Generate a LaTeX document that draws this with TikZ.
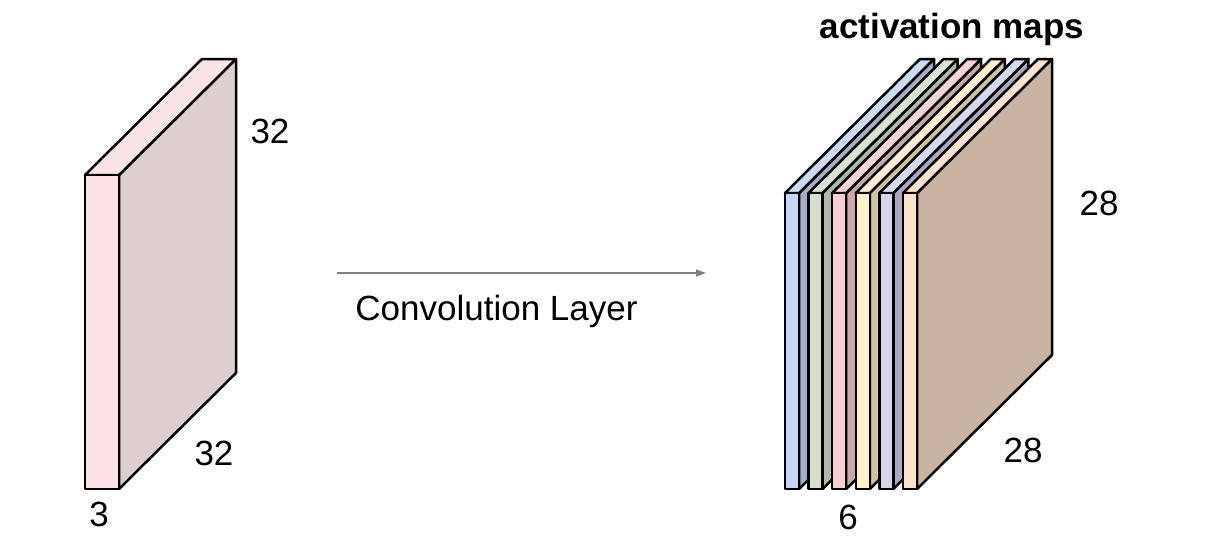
\documentclass[tikz,border=0pt]{standalone}
\usepackage{fontspec}
\setmainfont{Liberation Sans}
\usetikzlibrary{arrows.meta}
\definecolor{lfront}{HTML}{FBE3E6}
\definecolor{ltop}{HTML}{F9E4E6}
\definecolor{lside}{HTML}{DDCFD0}
\definecolor{arrowgray}{HTML}{7F7F7F}
\begin{document}
\begin{tikzpicture}[x=1pt,y=-1pt,line width=2.5pt,line join=round,
  face/.style={draw=black},
  lbl/.style={font=\fontsize{35}{40}\selectfont,inner sep=0pt,text=black},
  conn/.style={draw=arrowgray,line width=1.3pt,-{Triangle[length=10pt,width=7pt]}}]
\useasboundingbox (0,0) rectangle (1223,538);
% input volume
\filldraw[face,fill=lside] (119,175) -- (236,59) -- (236,373) -- (119,489) -- cycle;
\filldraw[face,fill=ltop] (85,175) -- (202,59) -- (236,59) -- (119,175) -- cycle;
\filldraw[face,fill=lfront] (85,175) rectangle (119,489);
% activation maps
\foreach \i/\fr/\tp/\sd in {0/C5D6F6/CDDAF4/A3AEC9,1/D3E1CC/D7E4D2/AEB9AA,2/F9CECE/F7D4D4/C8A8A8,3/FDF1C9/FBEFCF/CFC2A3,4/D6D3EB/D9D7EE/ABA9C2,5/FDE2CC/FBE3D0/C9B4A3}{
  \pgfmathsetmacro\xl{785+23.6*\i}
  \pgfmathsetmacro\xr{\xl+14}
  \definecolor{cfr}{HTML}{\fr}\definecolor{ctp}{HTML}{\tp}\definecolor{csd}{HTML}{\sd}
  \filldraw[face,fill=csd] (\xr,193) -- ({\xr+135},59) -- ({\xr+135},355) -- (\xr,489) -- cycle;
  \filldraw[face,fill=ctp] (\xl,193) -- ({\xl+135},59) -- ({\xr+135},59) -- (\xr,193) -- cycle;
  \filldraw[face,fill=cfr] (\xl,193) rectangle (\xr,489);
}
% labels
\node[lbl] (h1) at (270,131) {32};
\node[lbl] (w1) at (214,453) {32};
\node[lbl] (d1) at (99,514) {3};
\node[lbl] (h2) at (1099,203) {28};
\node[lbl] (w2) at (1023,450) {28};
\node[lbl] (d2) at (848,517) {6};
\node[lbl,font=\fontsize{35}{40}\selectfont\bfseries,anchor=base] (title) at (952,38) {activation maps};
\node[lbl,anchor=base] (layer) at (496.5,320) {Convolution Layer};
% arrow
\coordinate (astart) at (337,273);
\coordinate (aend) at (706,273);
\draw[conn] (astart) -- (aend);
\end{tikzpicture}
\end{document}
